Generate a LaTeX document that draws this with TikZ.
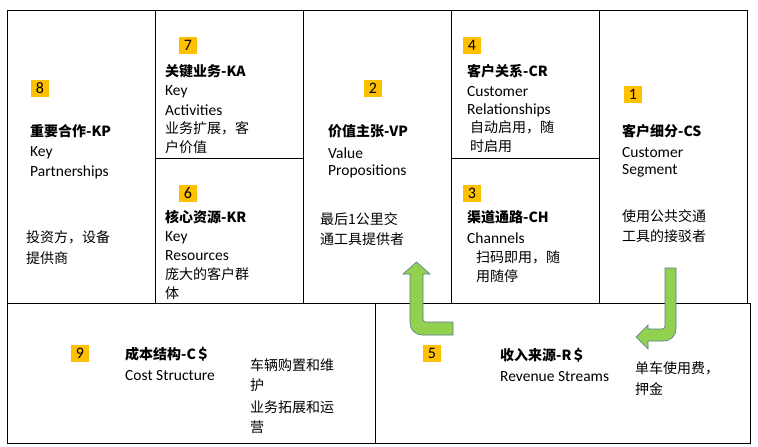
\documentclass[tikz,border=0pt]{standalone}
\usepackage{fontspec}
\setmainfont{Carlito}
\newfontfamily\cjk{Noto Sans CJK SC}
\usetikzlibrary{positioning}
\definecolor{bmbadge}{HTML}{FFC000}
\definecolor{bmgreen}{HTML}{92D050}
\definecolor{bmgreendark}{HTML}{5A7A8E}

\begin{document}
\begin{tikzpicture}[
  x=1pt, y=-1pt,
  every node/.style={font=\fontsize{15.5}{17}\selectfont, inner sep=0pt},
  txt/.style={anchor=west},
  ttl/.style={anchor=west, font=\fontsize{14}{16}\selectfont\cjk\bfseries},
  zh/.style={anchor=west, font=\fontsize{14}{16}\selectfont\cjk},
  badge/.style={fill=bmbadge, minimum width=18pt, minimum height=17pt, font=\fontsize{16}{17}\selectfont},
  cell/.style={draw=black, line width=0.8pt},
  turn/.style={fill=bmgreen, draw=bmgreendark, line width=0.6pt},
]
\useasboundingbox (0,0) rectangle (758,447);

% canvas cells
\draw[cell] (7,10) rectangle (155,303);
\draw[cell] (155,10) rectangle (303,158);
\draw[cell] (155,158) rectangle (303,303);
\draw[cell] (303,10) rectangle (451,303);
\draw[cell] (451,10) rectangle (599,158);
\draw[cell] (451,158) rectangle (599,303);
\draw[cell] (599,10) rectangle (747,303);
\draw[cell] (7,303) rectangle (375,443);
\draw[cell] (375,303) rectangle (750,443);

% KP
\node[badge] (b8) at (40,88) {8};
\node[ttl] (kpt) at (30,131) {重要合作-KP};
\node[txt] (kp1) at (30,153) {Key};
\node[txt] (kp2) at (30,172) {Partnerships};
\node[zh] (kp3) at (26,237) {投资方，设备};
\node[zh] (kp4) at (26,258) {提供商};

% KA
\node[badge] (b7) at (188,45) {7};
\node[ttl] (kat) at (165,71) {关键业务-KA};
\node[txt] (ka1) at (165,92) {Key};
\node[txt] (ka2) at (165,110) {Activities};
\node[zh] (ka3) at (165,128) {业务扩展，客};
\node[zh] (ka4) at (165,147) {户价值};

% KR
\node[badge] (b6) at (188,193) {6};
\node[ttl] (krt) at (165,217) {核心资源-KR};
\node[txt] (kr1) at (165,238) {Key};
\node[txt] (kr2) at (165,256) {Resources};
\node[zh] (kr3) at (165,274) {庞大的客户群};
\node[zh] (kr4) at (165,293) {体};

% VP
\node[badge] (b2) at (373,88) {2};
\node[ttl] (vpt) at (328,131) {价值主张-VP};
\node[txt] (vp1) at (328,153) {Value};
\node[txt] (vp2) at (328,171) {Propositions};
\node[zh] (vp3) at (320,219) {最后1公里交};
\node[zh] (vp4) at (320,239) {通工具提供者};

% CR
\node[badge] (b4) at (472,45) {4};
\node[ttl] (crt) at (467,71) {客户关系-CR};
\node[txt] (cr1) at (467,92) {Customer};
\node[txt] (cr2) at (467,110) {Relationships};
\node[zh] (cr3) at (470,127) {自动启用，随};
\node[zh] (cr4) at (470,146) {时启用};

% CH
\node[badge] (b3) at (472,193) {3};
\node[ttl] (cht) at (467,217) {渠道通路-CH};
\node[txt] (ch1) at (467,238) {Channels};
\node[zh] (ch2) at (476,257) {扫码即用，随};
\node[zh] (ch3) at (476,276) {用随停};

% CS
\node[badge] (b1) at (633,94) {1};
\node[ttl] (cst) at (622,131) {客户细分-CS};
\node[txt] (cs1) at (622,153) {Customer};
\node[txt] (cs2) at (622,171) {Segment};
\node[zh] (cs3) at (622,216) {使用公共交通};
\node[zh] (cs4) at (622,236) {工具的接驳者};

% C$
\node[badge] (b9) at (80,353) {9};
\node[ttl] (cot) at (125,354) {成本结构-C＄};
\node[txt] (co1) at (125,376) {Cost Structure};
\node[zh] (co2) at (250,365) {车辆购置和维};
\node[zh] (co3) at (250,385) {护};
\node[zh] (co4) at (250,407) {业务拓展和运};
\node[zh] (co5) at (250,427) {营};

% R$
\node[badge] (b5) at (432,353) {5};
\node[ttl] (rst) at (500,355) {收入来源-R＄};
\node[txt] (rs1) at (500,377) {Revenue Streams};
\node[zh] (rs2) at (635,368) {单车使用费，};
\node[zh] (rs3) at (635,389) {押金};

% turn arrows
\draw[turn] (453,322) [rounded corners=3pt] -- (423,322) [sharp corners] -- (423,274) -- (430,274) -- (416.5,262) -- (403,274) -- (410,274) [rounded corners=12pt] -- (410,335) [sharp corners] -- (453,335) -- cycle;
\draw[turn] (665,268) -- (676,268) [rounded corners=12pt] -- (676,341) [sharp corners] -- (648,341) -- (648,349) -- (636,337) -- (648,325) -- (648,329) [rounded corners=3pt] -- (665,329) [sharp corners] -- cycle;
\end{tikzpicture}
\end{document}
